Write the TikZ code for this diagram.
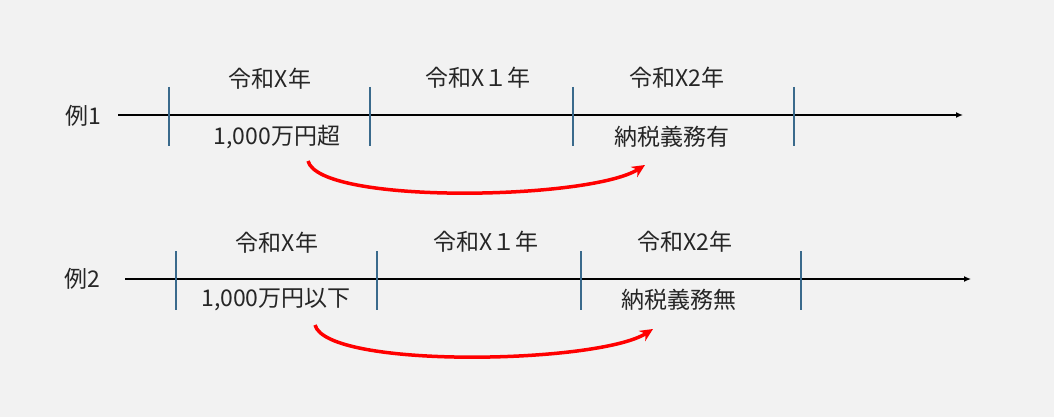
\documentclass[tikz,border=0pt]{standalone}
\usepackage{fontspec}
\setmainfont{Noto Sans CJK JP}
\usetikzlibrary{arrows.meta}
\definecolor{bg}{HTML}{F2F2F2}
\definecolor{tick}{HTML}{3A6A8C}
\begin{document}
\begin{tikzpicture}[x=1pt,y=-1pt,
  lbl/.style={font=\fontsize{23}{25}\selectfont, text=black!85},
  tk/.style={draw=tick, line width=1.3pt},
  axis/.style={draw=black, line width=1.3pt, -{Latex[length=7pt,width=6pt]}},
  redarr/.style={draw=red, line width=3.5pt, -{Stealth[length=13pt,width=12pt]}}]
\fill[bg] (0,0) rectangle (1054,417);
\useasboundingbox (0,0) rectangle (1054,417);
% row 1
\coordinate (a1s) at (118,115); \coordinate (a1e) at (963,115);
\draw[axis] (a1s) -- (a1e);
\foreach \x/\n in {169/t11,370/t12,573/t13,794/t14}{
  \coordinate (\n a) at (\x,87); \coordinate (\n b) at (\x,146);
  \draw[tk] (\n a) -- (\n b);}
\node[lbl] (e1) at (83,116) {例1};
\node[lbl] (y11) at (270,79) {令和X年};
\node[lbl] (y12) at (478,78) {令和X１年};
\node[lbl] (y13) at (677,78) {令和X2年};
\node[lbl] (v11) at (277,137) {1,000万円超};
\node[lbl] (v12) at (672,137) {納税義務有};
\coordinate (r1s) at (308,161); \coordinate (r1e) at (645,165);
\draw[redarr] (r1s) .. controls (320,205) and (590,200) .. (r1e);
% row 2
\coordinate (a2s) at (125,279); \coordinate (a2e) at (971,279);
\draw[axis] (a2s) -- (a2e);
\foreach \x/\n in {176/t21,377/t22,581/t23,801/t24}{
  \coordinate (\n a) at (\x,251); \coordinate (\n b) at (\x,310);
  \draw[tk] (\n a) -- (\n b);}
\node[lbl] (e2) at (82,279) {例2};
\node[lbl] (y21) at (277,243) {令和X年};
\node[lbl] (y22) at (486,242) {令和X１年};
\node[lbl] (y23) at (685,242) {令和X2年};
\node[lbl] (v21) at (276,300) {1,000万円以下};
\node[lbl] (v22) at (679,300) {納税義務無};
\coordinate (r2s) at (315,325); \coordinate (r2e) at (653,329);
\draw[redarr] (r2s) .. controls (327,369) and (598,364) .. (r2e);
\end{tikzpicture}
\end{document}
